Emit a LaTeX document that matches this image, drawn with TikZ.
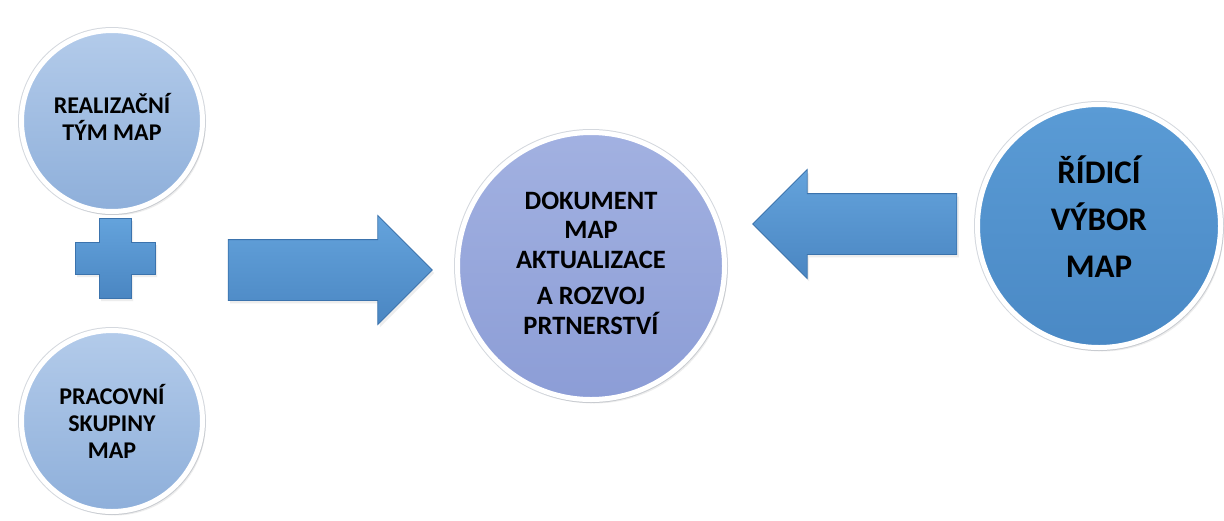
\documentclass[tikz,border=0pt]{standalone}
\usepackage{fontspec}
\setmainfont{Carlito}
\usetikzlibrary{shapes.arrows}
\usetikzlibrary{shadows}
\definecolor{paleTop}{HTML}{B3CBEA}
\definecolor{paleBot}{HTML}{8EAFDA}
\definecolor{lilacTop}{HTML}{A2B1E1}
\definecolor{lilacBot}{HTML}{8C9DD6}
\definecolor{deepTop}{HTML}{5A9BD5}
\definecolor{deepBot}{HTML}{4A89C5}
\definecolor{arrowTop}{HTML}{64A3DC}
\definecolor{arrowBot}{HTML}{4A86C2}
\definecolor{arrowEdge}{HTML}{3B73AD}
\definecolor{rimShade}{HTML}{D4D8DE}
\tikzset{
    bubble/.style = {circle, align=center, inner sep=0pt, text=black, draw=white, line width=5pt,
                     preaction={draw=rimShade, line width=7pt},
                     drop shadow={opacity=0.14, shadow xshift=3pt, shadow yshift=-4pt}},
    pale_node/.style = {bubble, top color=paleTop, bottom color=paleBot, minimum size=181pt,
                        font=\fontsize{24}{27}\selectfont\bfseries},
    lilac_node/.style = {bubble, top color=lilacTop, bottom color=lilacBot, minimum size=267pt,
                         font=\fontsize{26.5}{29.5}\selectfont\bfseries},
    deep_node/.style = {bubble, top color=deepTop, bottom color=deepBot, minimum size=243pt,
                        font=\fontsize{33}{47}\selectfont\bfseries},
    block_arrow/.style = {single arrow, inner xsep=0pt, inner ysep=30pt, minimum height=204pt,
                          single arrow head extend=24pt, top color=arrowTop, bottom color=arrowBot,
                          draw=arrowEdge, line width=0.8pt, preaction={draw=white, line width=7pt},
                          drop shadow={opacity=0.14, shadow xshift=2pt, shadow yshift=-3pt}},
    plus_sign/.style = {top color=arrowTop, bottom color=arrowBot, draw=arrowEdge, line width=0.8pt,
                        preaction={draw=white, line width=7pt},
                        drop shadow={opacity=0.14, shadow xshift=2pt, shadow yshift=-3pt}}
}
\begin{document}
\begin{tikzpicture}[x=1pt, y=-1pt]
    \useasboundingbox (0,0) rectangle (1224,520);

    \node [pale_node, text depth=8pt] (team) at (112,121) {REALIZAČNÍ\\TÝM MAP};
    \node [pale_node] (groups) at (112,421) {PRACOVNÍ\\SKUPINY\\MAP};
    \node [lilac_node, text depth=6pt] (doc) at (591,266) {DOKUMENT\\MAP\\AKTUALIZACE\\[7pt]A ROZVOJ\\PRTNERSTVÍ};
    \node [deep_node, text depth=18pt] (board) at (1099,226) {ŘÍDICÍ\\VÝBOR\\MAP};

    \coordinate (plus) at (115,258);
    \path [plus_sign] (plus) ++(-16,-40) -- ++(32,0) -- ++(0,24) -- ++(24,0) -- ++(0,32)
        -- ++(-24,0) -- ++(0,24) -- ++(-32,0) -- ++(0,-24) -- ++(-24,0) -- ++(0,-32)
        -- ++(24,0) -- cycle;

    \node [block_arrow] (toDoc) at (315,270) {};
    \node [block_arrow, shape border rotate=180] (fromBoard) at (870,224) {};
\end{tikzpicture}
\end{document}
